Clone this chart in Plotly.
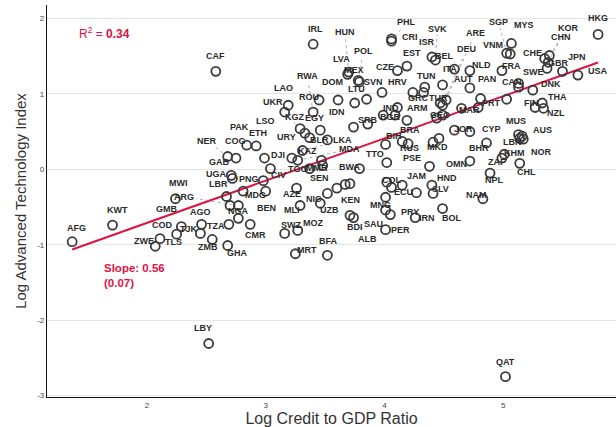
import math
import plotly.graph_objects as go

# ---- data: log credit-to-GDP (x) vs log advanced technology index (y) ----
codes = [
    "AFG", "KWT", "CAF", "LBY", "QAT", "MWI", "ARG", "GMB", "COD", "ZWE",
    "TLS", "AGO", "TJK", "TZA", "ZMB", "GHA", "NER", "COG", "PAK", "ETH",
    "GAB", "UGA", "LBR", "DJI", "CIV", "PNG", "MDG", "NGA", "BEN", "CMR",
    "IRL", "RWA", "ROU", "UKR", "KGZ", "EGY", "LSO", "LAO", "URY", "BLR",
    "KAZ", "TGO", "MMR", "SEN", "LKA", "MDA", "AZE", "MLI", "NIC", "UZB",
    "SWZ", "MOZ", "MRT", "BFA", "HUN", "LVA", "POL", "MEX", "PHL", "CRI",
    "CZE", "EST", "ISR", "SVK", "DOM", "SVN", "LTU", "IDN", "HRV", "TUN",
    "GRC", "TUR", "IND", "BGR", "SRB", "ARM", "BRA", "RUS", "BIH", "TTO",
    "BWA", "KEN", "BDI", "ALB", "SAU", "MNG", "PER", "PRY", "IRN", "COL",
    "ECU", "JAM", "PSE", "HND", "SLV", "NAM", "BOL", "OMN", "NPL", "ZAF",
    "KHM", "CHL", "LBN", "AUS", "NOR", "MUS", "BHR", "MKD", "CYP", "JOR",
    "GEO", "MAR", "PRT", "PAN", "AUT", "ARE", "DEU", "BEL", "ITA", "NLD",
    "FRA", "VNM", "SGP", "MYS", "SWE", "CAN", "DNK", "FIN", "THA", "NZL",
    "CHE", "KOR", "CHN", "GBR", "JPN", "USA", "HKG",
]
log_credit = [
    1.37, 1.71, 2.58, 2.52, 5.02, 2.24, 2.77, 2.29, 2.25, 2.07,
    2.11, 2.46, 2.45, 2.69, 2.55, 2.68, 2.68, 2.75, 2.84, 2.92,
    2.71, 2.72, 2.67, 2.99, 3.04, 2.98, 2.81, 2.70, 3.00, 2.87,
    3.40, 3.40, 3.45, 3.29, 3.33, 3.46, 3.16, 3.19, 3.37, 3.52,
    3.22, 3.37, 3.47, 3.48, 3.31, 3.27, 3.26, 3.29, 3.46, 3.52,
    3.16, 3.27, 3.25, 3.52, 3.70, 3.69, 3.78, 3.79, 4.06, 4.06,
    4.11, 4.19, 4.40, 4.43, 3.61, 3.98, 3.85, 3.75, 4.24, 4.34,
    4.33, 4.47, 4.11, 4.09, 3.86, 4.19, 4.20, 4.15, 4.01, 4.02,
    3.79, 3.67, 3.71, 3.74, 4.01, 4.01, 4.01, 4.05, 4.26, 4.02,
    4.15, 4.27, 4.38, 4.40, 4.41, 4.83, 4.49, 4.72, 4.89, 4.99,
    5.01, 5.14, 5.14, 5.16, 5.17, 5.13, 4.86, 4.46, 4.72, 4.59,
    4.44, 4.65, 5.03, 4.81, 4.72, 4.52, 4.49, 4.59, 4.49, 4.72,
    4.99, 5.06, 5.03, 5.07, 5.13, 5.13, 5.25, 5.27, 5.33, 5.34,
    5.35, 5.39, 5.38, 5.37, 5.50, 5.63, 5.80,
]
log_tech = [
    -0.96, -0.74, 1.30, -2.31, -2.75, -0.39, -0.48, -0.76, -0.86, -1.02,
    -0.92, -0.73, -0.85, -0.73, -0.93, -1.01, 0.17, 0.15, 0.32, 0.31,
    -0.08, -0.12, -0.36, 0.15, 0.01, -0.15, -0.29, -0.48, -0.29, -0.73,
    1.66, 0.76, 0.92, 0.54, 0.48, 0.52, 0.76, 0.85, 0.42, 0.39,
    0.15, 0.01, 0.12, 0.05, 0.25, 0.12, -0.25, -0.48, -0.45, -0.32,
    -0.85, -0.81, -1.12, -1.14, 1.29, 1.26, 1.18, 1.16, 1.70, 1.73,
    1.31, 1.37, 1.49, 1.45, 0.92, 1.02, 0.93, 0.88, 1.02, 1.09,
    1.02, 0.88, 0.82, 0.72, 0.60, 0.65, 0.34, 0.37, 0.33, 0.09,
    0.01, -0.20, -0.61, -0.64, -0.54, -0.37, -0.80, -0.60, -0.64, -0.17,
    -0.21, -0.31, 0.04, -0.21, -0.32, -0.39, -0.52, 0.11, -0.05, 0.15,
    0.20, 0.08, 0.41, 0.44, 0.40, 0.46, 0.35, 0.41, 0.50, 0.52,
    0.68, 0.81, 0.93, 0.94, 1.08, 0.92, 0.85, 1.33, 1.12, 1.31,
    1.31, 1.53, 1.54, 1.67, 1.14, 1.09, 1.05, 0.82, 0.88, 0.81,
    1.47, 1.51, 1.42, 1.34, 1.30, 1.25, 1.79,
]

# economies plotted without a label
unlabeled_credit = [4.79, 4.06, 2.77, 3.60, 3.71, 4.41, 3.74, 3.99, 4.49]
unlabeled_tech = [0.82, -0.24, -0.65, -0.25, -0.19, 0.36, 0.56, 0.72, 0.72]

# OLS summary
slope = 0.56
slope_se = 0.07
intercept = -1.83
r_squared = 0.34

x_ticks = [2, 3, 4, 5]
y_ticks = [-3, -2, -1, 0, 1, 2]
y_tick_text = ["-3", "-2", "-1", "0", "1", "2"]

# ---- label placement (pixel offsets from the point; negative dy = up) ----
default_shift = (0, -15)
label_shift = {
    "AFG": (4, -14), "KWT": (5, -15), "LBY": (-6, -15), "MWI": (3, -16),
    "ARG": (-54, -9), "GMB": (-15, -18), "COD": (-14, -9), "ZWE": (-11, -5),
    "TLS": (13, 3), "AGO": (-1, -12), "TJK": (-11, -4), "TZA": (-13, 2),
    "ZMB": (-4, 8), "GHA": (10, 8), "NER": (-21, -16), "COG": (0, -17),
    "PAK": (-7, -18), "ETH": (2, -13), "GAB": (-12, -13), "UGA": (-16, -4),
    "LBR": (-8, -12), "DJI": (14, -3), "CIV": (8, 6), "PNG": (-14, -2),
    "MDG": (12, 4), "NGA": (8, 5), "BEN": (1, 17), "CMR": (5, 11),
    "IRL": (2, -15), "RWA": (-6, -36), "ROU": (-10, -3), "UKR": (-27, -27),
    "KGZ": (-10, -16), "EGY": (-6, -12), "LSO": (-19, 9), "LAO": (-5, -17),
    "URY": (-23, -1), "BLR": (-8, 0), "KAZ": (16, -7), "TGO": (-12, 0),
    "MMR": (-4, 8), "SEN": (-3, 12), "LKA": (40, -10), "MDA": (52, -11),
    "AZE": (-5, 6), "MLI": (-8, 4), "NIC": (-6, -4), "UZB": (2, 17),
    "SWZ": (6, -8), "MOZ": (15, -7), "MRT": (12, -4), "BFA": (1, -14),
    "HUN": (-4, -40), "LVA": (-6, -15), "POL": (5, -29), "MEX": (-5, -12),
    "PHL": (15, -19), "CRI": (18, -2), "CZE": (-12, -4), "EST": (5, -13),
    "ISR": (-5, -15), "SVK": (2, -31), "DOM": (-6, -18), "SVN": (-9, -10),
    "LTU": (-10, -10), "IDN": (-18, 9), "HRV": (-15, -10), "TUN": (2, -11),
    "GRC": (-5, 6), "TUR": (-2, -5), "IND": (-6, 0), "BGR": (-5, 2),
    "SRB": (0, -4), "ARM": (11, -12), "BRA": (2, -14), "RUS": (7, 7),
    "BIH": (8, -8), "TTO": (-12, -9), "BWA": (-10, -2), "KEN": (5, 16),
    "BDI": (5, 12), "ALB": (14, 21), "SAU": (-12, 14), "MNG": (-5, 8),
    "PER": (15, 0), "PRY": (20, -3), "IRN": (12, 0), "COL": (5, -2),
    "ECU": (1, 7), "JAM": (0, -17), "PSE": (-18, -8), "HND": (15, -7),
    "SLV": (7, -4), "NAM": (-6, -4), "BOL": (9, 9), "OMN": (-13, 3),
    "NPL": (4, 7), "ZAF": (-5, 4), "KHM": (10, -1), "CHL": (7, 9),
    "LBN": (-7, 4), "AUS": (20, -6), "NOR": (18, 13), "MUS": (-3, -14),
    "BHR": (-7, 5), "MKD": (-2, 9), "CYP": (22, -3), "JOR": (9, -1),
    "GEO": (3, -3), "MAR": (8, 2), "PRT": (-15, 4), "PAN": (6, -19),
    "AUT": (-6, -9), "ARE": (29, -67), "DEU": (24, -56), "BEL": (-10, -13),
    "ITA": (7, -16), "NLD": (12, -6), "FRA": (10, -5), "VNM": (-17, -9),
    "SGP": (-8, -31), "MYS": (13, -18), "SWE": (15, -11), "CAN": (-7, -5),
    "DNK": (18, -6), "FIN": (-4, -5), "THA": (15, -6), "NZL": (13, 5),
    "CHE": (-12, -6), "KOR": (19, -28), "CHN": (13, -25), "GBR": (11, -5),
    "JPN": (15, -14), "USA": (20, -4), "HKG": (0, -16),
}

# ---- figure geometry ----
W, H = 616, 427
margin = dict(l=47, r=0, t=5, b=30)
x_range = [1.158, 5.951]
y_range = [-3.02, 2.18]
px_per_x = (W - margin["l"] - margin["r"]) / (x_range[1] - x_range[0])
px_per_y = (H - margin["t"] - margin["b"]) / (y_range[1] - y_range[0])

red = "#E0103F"
ink = "#3b3b3b"
font_family = "Liberation Sans, Arial, sans-serif"

fig = go.Figure()

# regression line across the observed credit range
x_lo, x_hi = min(log_credit), max(log_credit)
fig.add_trace(go.Scatter(
    x=[x_lo, x_hi],
    y=[intercept + slope * x_lo, intercept + slope * x_hi],
    mode="lines", line=dict(color=red, width=2), hoverinfo="skip",
))

# dashed leader segments for labels pushed away from their point
seg_x, seg_y = [], []
half_w, half_h = 10.5, 5.0
for code, x, y in zip(codes, log_credit, log_tech):
    dx, dy = label_shift.get(code, default_shift)
    dist = math.hypot(dx, dy)
    if dist < 24:
        continue
    ux, uy = dx / dist, dy / dist
    start = 6.0
    # stop at the edge of the label box
    tx = half_w / abs(ux) if ux else float("inf")
    ty = half_h / abs(uy) if uy else float("inf")
    end = dist - min(tx, ty) - 1
    if end <= start:
        continue
    sx0, sy0 = ux * start, uy * start
    sx1, sy1 = ux * end, uy * end
    seg_x += [x + sx0 / px_per_x, x + sx1 / px_per_x, None]
    seg_y += [y - sy0 / px_per_y, y - sy1 / px_per_y, None]

fig.add_trace(go.Scatter(
    x=seg_x, y=seg_y, mode="lines",
    line=dict(color="#8a8a8a", width=0.7, dash="dot"), hoverinfo="skip",
))

# points
marker_style = dict(symbol="circle-open", size=9, color=ink, line=dict(width=1.8, color=ink))
fig.add_trace(go.Scatter(
    x=log_credit + unlabeled_credit, y=log_tech + unlabeled_tech,
    mode="markers", marker=marker_style, hoverinfo="skip",
))

# country labels
annotations = []
for code, x, y in zip(codes, log_credit, log_tech):
    dx, dy = label_shift.get(code, default_shift)
    annotations.append(dict(
        x=x, y=y, xref="x", yref="y", text=f"<b>{code}</b>", showarrow=False,
        xshift=dx, yshift=-dy, xanchor="center", yanchor="middle",
        font=dict(family=font_family, size=9, color="#2a2a2a"),
    ))

# fit statistics
annotations.append(dict(
    xref="paper", yref="paper", x=(77 - margin["l"]) / (W - margin["l"] - margin["r"]),
    y=1 - (33 - margin["t"]) / (H - margin["t"] - margin["b"]),
    xanchor="left", yanchor="middle", showarrow=False,
    text=f"R<sup>2</sup> = <b>{r_squared:.2f}</b>",
    font=dict(family=font_family, size=12, color=red),
))
annotations.append(dict(
    xref="paper", yref="paper", x=(102 - margin["l"]) / (W - margin["l"] - margin["r"]),
    y=1 - (275 - margin["t"]) / (H - margin["t"] - margin["b"]),
    xanchor="left", yanchor="middle", showarrow=False, align="left",
    text=f"<b>Slope: {slope:.2f}<br>({slope_se:.2f})</b>",
    font=dict(family=font_family, size=11.5, color=red),
))

fig.update_layout(
    width=W, height=H, margin=margin,
    paper_bgcolor="white", plot_bgcolor="white",
    showlegend=False, annotations=annotations,
    font=dict(family=font_family),
)
fig.update_xaxes(
    range=x_range, tickvals=x_ticks, showgrid=False, zeroline=False,
    showline=True, linecolor="#111", linewidth=1.3, ticks="",
    tickfont=dict(size=8, color="#444"),
    title=dict(text="Log Credit to GDP Ratio", font=dict(size=16, color="#333"), standoff=4),
    automargin=False,
)
fig.update_yaxes(
    range=y_range, tickvals=y_ticks, ticktext=y_tick_text,
    showgrid=True, gridcolor="#e6e6e6", gridwidth=1, zeroline=False,
    showline=True, linecolor="#111", linewidth=1.3, ticks="",
    tickfont=dict(size=8, color="#444"),
    title=dict(text="Log Advanced Technology Index", font=dict(size=15, color="#333"), standoff=6),
    automargin=False,
)

fig.write_html("out.html")
